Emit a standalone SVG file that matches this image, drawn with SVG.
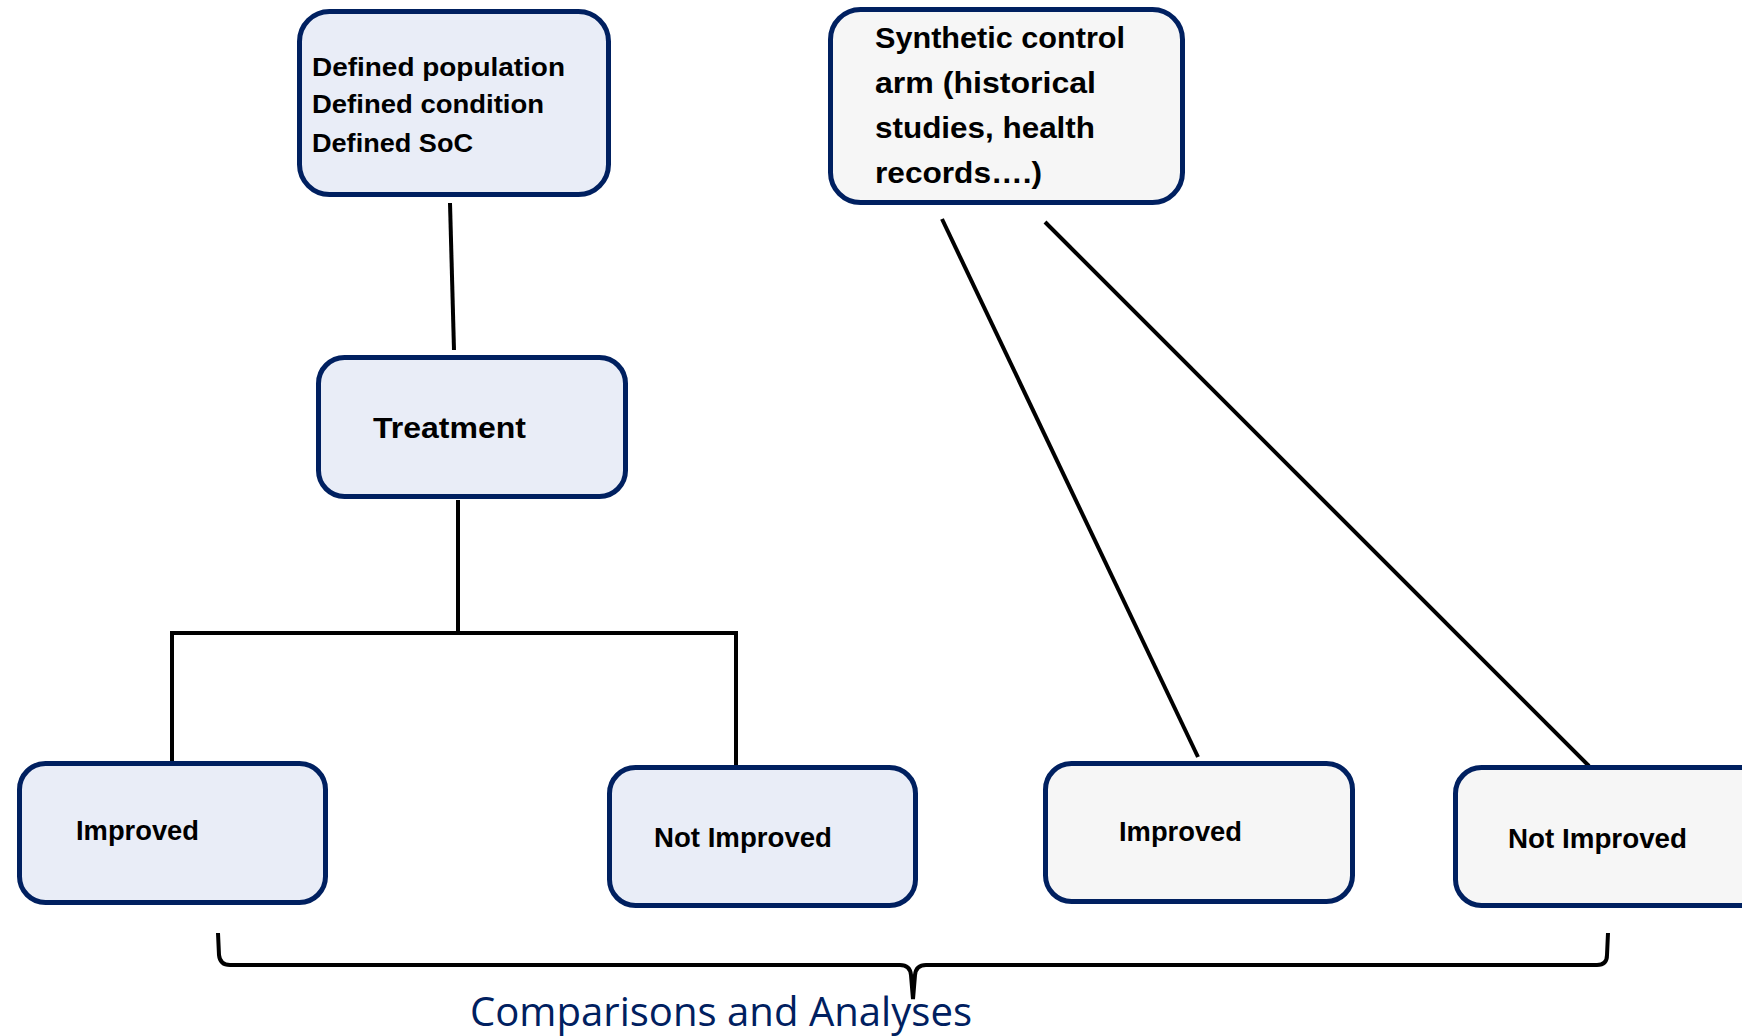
<svg xmlns="http://www.w3.org/2000/svg" width="1742" height="1036" viewBox="0 0 1742 1036">
<style>
.box{stroke:#002060;stroke-width:5}
.blue{fill:#E9EDF7}
.gray{fill:#F6F6F6}
.t{font-family:"Liberation Sans",Arial,sans-serif;font-weight:bold;fill:#000}
.conn line,.conn path{stroke:#000;stroke-width:4;fill:none}
.cap{font-family:"Open Sans","Liberation Sans",sans-serif;fill:#002060;font-size:40px}
</style>
<rect width="1742" height="1036" fill="#fff"/>
<g class="conn" id="connectors">
<line x1="450" y1="203" x2="454" y2="350"/>
<line x1="458" y1="500" x2="458" y2="633"/>
<line x1="170" y1="633" x2="738" y2="633"/>
<line x1="172" y1="631" x2="172" y2="765"/>
<line x1="736" y1="631" x2="736" y2="767"/>
<line x1="942" y1="219" x2="1198" y2="757"/>
<line x1="1045" y1="222" x2="1589" y2="766"/>
<path d="M218,933 L219,955 Q220,965 230,965 L900,965 Q910,965 911,975 L913,999 L915,975 Q916,965 926,965 L1597,965 Q1607,965 1607,955 L1608,933" stroke-width="5"/>
</g>
<g id="node-defined">
<rect class="box blue" x="299.5" y="11.5" width="309" height="183" rx="30"/>
<text class="t" font-size="26" x="312" y="76" textLength="253" lengthAdjust="spacingAndGlyphs">Defined population</text>
<text class="t" font-size="26" x="312" y="113" textLength="232" lengthAdjust="spacingAndGlyphs">Defined condition</text>
<text class="t" font-size="26" x="312" y="152" textLength="161" lengthAdjust="spacingAndGlyphs">Defined SoC</text>
</g>
<g id="node-synthetic">
<rect class="box gray" x="830.5" y="9.5" width="352" height="193" rx="30"/>
<text class="t" font-size="30" x="875" y="48" textLength="250" lengthAdjust="spacingAndGlyphs">Synthetic control</text>
<text class="t" font-size="30" x="875" y="93" textLength="221" lengthAdjust="spacingAndGlyphs">arm (historical</text>
<text class="t" font-size="30" x="875" y="138" textLength="220" lengthAdjust="spacingAndGlyphs">studies, health</text>
<text class="t" font-size="30" x="875" y="183" textLength="167" lengthAdjust="spacingAndGlyphs">records….)</text>
</g>
<g id="node-treatment">
<rect class="box blue" x="318.5" y="357.5" width="307" height="139" rx="26"/>
<text class="t" font-size="30" x="373" y="438" textLength="153" lengthAdjust="spacingAndGlyphs">Treatment</text>
</g>
<g id="node-improved-left">
<rect class="box blue" x="19.5" y="763.5" width="306" height="139" rx="26"/>
<text class="t" font-size="27" x="76" y="840" textLength="123" lengthAdjust="spacingAndGlyphs">Improved</text>
</g>
<g id="node-notimproved-left">
<rect class="box blue" x="609.5" y="767.5" width="306" height="138" rx="26"/>
<text class="t" font-size="27" x="654" y="847" textLength="178" lengthAdjust="spacingAndGlyphs">Not Improved</text>
</g>
<g id="node-improved-right">
<rect class="box gray" x="1045.5" y="763.5" width="307" height="138" rx="26"/>
<text class="t" font-size="27" x="1119" y="841" textLength="123" lengthAdjust="spacingAndGlyphs">Improved</text>
</g>
<g id="node-notimproved-right">
<rect class="box gray" x="1455.5" y="767.5" width="320" height="138" rx="26"/>
<text class="t" font-size="27" x="1508" y="848" textLength="179" lengthAdjust="spacingAndGlyphs">Not Improved</text>
</g>
<text class="cap" x="470" y="1026" textLength="502" lengthAdjust="spacingAndGlyphs">Comparisons and Analyses</text>
</svg>
